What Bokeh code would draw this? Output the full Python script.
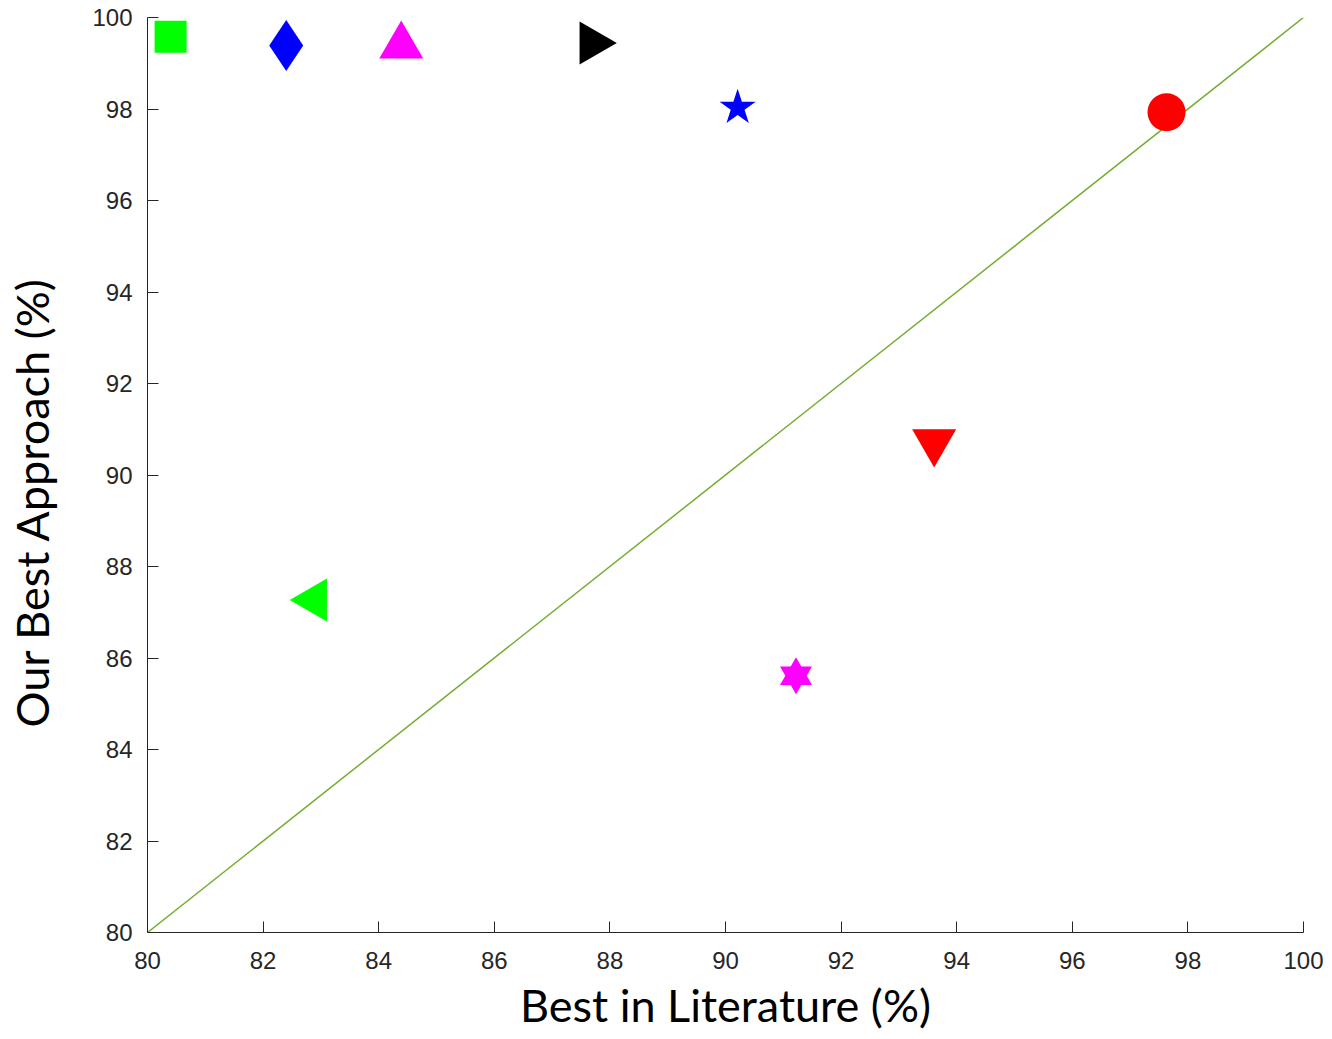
import numpy as np
from bokeh.plotting import figure
from bokeh.models import Range1d, FixedTicker, ColumnDataSource, Title, LinearAxis
from bokeh.embed import file_html
from bokeh.resources import INLINE

# ---- data ----
labels = ["square", "diamond", "triangle_up", "triangle_right", "star",
          "circle", "triangle_down", "triangle_left", "hexagram"]
x_lit = [80.40, 82.40, 84.39, 87.69, 90.21, 97.63, 93.61, 82.89, 91.22]
y_ours = [99.58, 99.39, 99.38, 99.44, 98.03, 97.93, 90.72, 87.27, 85.61]
colors = ["#00FF00", "#0000FF", "#FF00FF", "#000000", "#0000FF",
          "#FF0000", "#FF0000", "#00FF00", "#FF00FF"]
markers = ["square", "diamond", "triangle", "triangle", "star",
           "circle", "inverted_triangle", "triangle", "triangle"]
sizes = [32, 51, 44, 43, 38, 38, 44, 43, 32]
angles = [0, 0, 0, -np.pi / 2, 0, 0, 0, np.pi / 2, 0]

diag_x = [80, 100]
diag_y = [80, 100]

x_ticks = list(range(80, 101, 2))
y_ticks = list(range(80, 101, 2))

x_title = "Best in Literature (%)"
y_title = "Our Best Approach (%)"

p = figure(width=1330, height=1039, output_backend="svg", toolbar_location=None,
           x_range=Range1d(80, 100), y_range=Range1d(80, 100),
           min_border_left=147, min_border_right=27, min_border_top=17,
           min_border_bottom=107)
p.outline_line_color = None
p.grid.visible = False

p.line(diag_x, diag_y, line_color="#77AC30", line_width=1.5)

src = ColumnDataSource(dict(x=x_lit, y=y_ours, c=colors, m=markers, s=sizes, a=angles))
p.scatter("x", "y", source=src, marker="m", size="s", angle="a",
          fill_color="c", line_color="c", line_width=0)

# hexagram = inverted triangle overlaid on the last up-triangle
hx = [x_lit[-1]]
hy = [y_ours[-1]]
p.scatter(hx, hy, marker="inverted_triangle", size=32, fill_color=colors[-1],
          line_color=colors[-1], line_width=0)

for ax, ticks in ((p.xaxis[0], x_ticks), (p.yaxis[0], y_ticks)):
    ax.ticker = FixedTicker(ticks=ticks)
    ax.axis_line_color = "#262626"
    ax.major_tick_line_color = "#262626"
    ax.major_tick_in = 11
    ax.major_tick_out = 0
    ax.minor_tick_line_color = None
    ax.major_label_text_font = "Liberation Sans"
    ax.major_label_text_font_size = "24px"
    ax.major_label_text_color = "#262626"

p.xaxis.major_label_standoff = 19
p.yaxis.major_label_standoff = 15

# blank spacer axis (white tick on white) to push the y title outward
spacer = LinearAxis(ticker=FixedTicker(ticks=[90]), axis_line_color=None,
                    major_tick_line_color="white", minor_tick_line_color=None,
                    major_tick_in=0, major_tick_out=30, minor_tick_out=0,
                    major_label_overrides={90: ""}, major_label_standoff=0)
p.add_layout(spacer, "left")

p.add_layout(Title(text=x_title, align="center", standoff=9,
                   text_font="Lato", text_font_size="45px",
                   text_font_style="normal", text_color="#000000"), "below")
p.add_layout(Title(text=y_title, align="left", offset=205, standoff=2,
                   text_font="Lato", text_font_size="45px",
                   text_font_style="normal", text_color="#000000"), "left")

open("out.html", "w").write(file_html(p, INLINE))
